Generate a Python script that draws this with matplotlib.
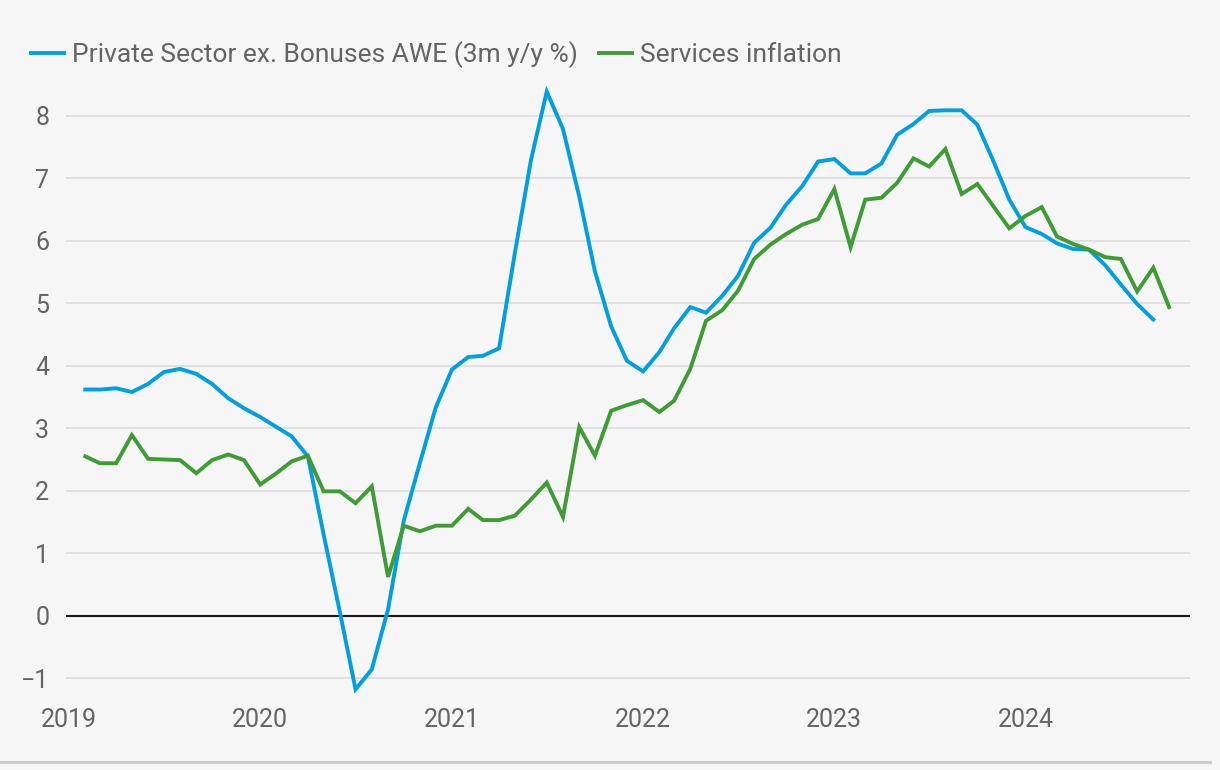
import pandas as pd
import matplotlib.pyplot as plt
import matplotlib.dates as mdates
from matplotlib.lines import Line2D

# Private sector regular pay (AWE, 3m y/y %), Feb 2019 - Sep 2024
awe = [3.62, 3.62, 3.64, 3.58, 3.71, 3.90, 3.95, 3.87, 3.71, 3.48, 3.32, 3.18,
       3.02, 2.87, 2.55, 1.30, 0.06, -1.18, -0.86, 0.10, 1.52, 2.45, 3.33, 3.94,
       4.14, 4.16, 4.28, 5.80, 7.30, 8.39, 7.79, 6.71, 5.51, 4.63, 4.08, 3.91,
       4.22, 4.60, 4.94, 4.85, 5.12, 5.44, 5.97, 6.21, 6.58, 6.88, 7.27, 7.31,
       7.08, 7.08, 7.24, 7.70, 7.87, 8.08, 8.09, 8.09, 7.86, 7.27, 6.66, 6.22,
       6.11, 5.96, 5.87, 5.86, 5.61, 5.30, 4.99, 4.74]

# Services CPI inflation (%), Feb 2019 - Oct 2024
services = [2.55, 2.44, 2.44, 2.89, 2.51, 2.50, 2.49, 2.28, 2.49, 2.58, 2.49, 2.10,
            2.28, 2.47, 2.56, 1.99, 1.99, 1.80, 2.07, 0.62, 1.44, 1.35, 1.44, 1.44,
            1.71, 1.53, 1.53, 1.60, 1.86, 2.13, 1.58, 3.02, 2.56, 3.28, 3.37, 3.45,
            3.26, 3.44, 3.95, 4.72, 4.89, 5.20, 5.71, 5.94, 6.11, 6.26, 6.35, 6.83,
            5.90, 6.66, 6.69, 6.93, 7.32, 7.19, 7.47, 6.75, 6.91, 6.55, 6.20, 6.40,
            6.54, 6.07, 5.95, 5.86, 5.74, 5.71, 5.19, 5.57, 4.94]

awe_dates = pd.date_range('2019-02-01', periods=len(awe), freq='MS')
svc_dates = pd.date_range('2019-02-01', periods=len(services), freq='MS')

year_ticks = pd.to_datetime(['2019-01-01', '2020-01-01', '2021-01-01',
                             '2022-01-01', '2023-01-01', '2024-01-01'])
y_ticks = [-1, 0, 1, 2, 3, 4, 5, 6, 7, 8]

bg = '#f6f6f6'
text_col = '#646464'
blue = '#009fdf'
green = '#3f9c35'

plt.rcParams['font.family'] = ['Roboto', 'DejaVu Sans']

fig = plt.figure(figsize=(12.2, 7.7), dpi=100, facecolor=bg)
ax = fig.add_axes([0.054, 0.095, 0.921, 0.795], facecolor=bg)

ax.plot(awe_dates, awe, color=blue, lw=2.8, label='Private Sector ex. Bonuses AWE (3m y/y %)',
        solid_joinstyle='miter')
ax.plot(svc_dates, services, color=green, lw=2.8, label='Services inflation',
        solid_joinstyle='miter')

ax.axhline(0, color='#1a1a1a', lw=1.5, zorder=1)
ax.set_yticks(y_ticks)
ax.set_yticklabels(['\u22121' if v < 0 else str(v) for v in y_ticks])
ax.set_ylim(-1.3, 8.5)
ax.grid(axis='y', color='#dcdcdc', lw=1.2, zorder=0)
ax.set_axisbelow(True)

ax.set_xticks(year_ticks)
ax.xaxis.set_major_formatter(mdates.DateFormatter('%Y'))
ax.set_xlim(pd.Timestamp('2018-12-26'), pd.Timestamp('2024-11-09'))

for s in ax.spines.values():
    s.set_visible(False)
ax.tick_params(axis='both', length=0, labelsize=18, colors=text_col)
ax.tick_params(axis='x', pad=8)
ax.tick_params(axis='y', pad=12)

fig.legend(loc='upper left', bbox_to_anchor=(0.006, 0.977), ncol=2, frameon=False,
           fontsize=19, labelcolor=text_col, handlelength=1.25, handletextpad=0.3,
           columnspacing=0.8)

# grey separator line at the bottom
fig.add_artist(Line2D([0, 0.992], [0.011, 0.011], color='#c8c8c8', lw=2,
                      transform=fig.transFigure))

fig.savefig('out.png', dpi=100, facecolor=bg)
